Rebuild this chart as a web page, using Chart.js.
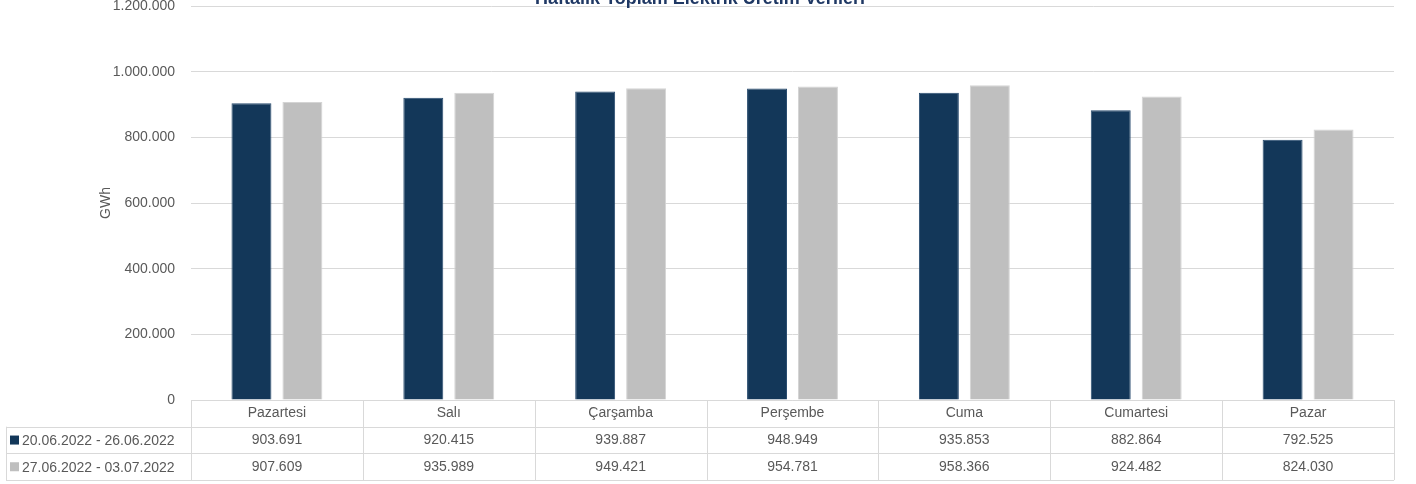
<!DOCTYPE html>
<html>
<head>
<meta charset="utf-8">
<script src="https://cdn.jsdelivr.net/npm/chart.js@4"></script>
<style>
  html, body { margin: 0; padding: 0; background: #fff; }
  #wrap { width: 1416px; height: 484px; }
</style>
</head>
<body>
<div id="wrap"><canvas id="elektrik"></canvas></div>
<script>
const days = ["Pazartesi", "Salı", "Çarşamba", "Perşembe", "Cuma", "Cumartesi", "Pazar"];
const week1Label = "20.06.2022 - 26.06.2022";
const week2Label = "27.06.2022 - 03.07.2022";
const week1 = [903691, 920415, 939887, 948949, 935853, 882864, 792525];
const week2 = [907609, 935989, 949421, 954781, 958366, 924482, 824030];
const chartTitle = "Haftalık Toplam Elektrik Üretim Verileri";
const unitLabel = "GWh";

const textColor = "#595959";
const lineColor = "#d9d9d9";
const font = "Liberation Sans";

function fmt(v) {
    return v.toLocaleString("de-DE");
}

// draws the cut-off title, the axis unit and the data table under the plot
const tablePlugin = {
    id: "dataTable",
    afterDraw(chart) {
        const ctx = chart.ctx;
        const area = chart.chartArea;
        const x = chart.scales.x;
        const top = area.bottom;
        const rowH = 26.7;
        const left = 6;
        const step = (area.right - area.left) / days.length;

        ctx.save();
        ctx.strokeStyle = lineColor;
        ctx.lineWidth = 1;
        ctx.beginPath();
        ctx.moveTo(area.left, top + 0.5); ctx.lineTo(area.right, top + 0.5);
        for (let r = 1; r <= 3; r++) {
            const y = Math.round(top + rowH * r) + 0.5;
            ctx.moveTo(left, y); ctx.lineTo(area.right, y);
        }
        ctx.moveTo(left + 0.5, top + rowH); ctx.lineTo(left + 0.5, top + rowH * 3);
        for (let i = 0; i <= days.length; i++) {
            const xx = Math.round(area.left + step * i) + 0.5;
            ctx.moveTo(xx, top); ctx.lineTo(xx, top + rowH * 3);
        }
        ctx.stroke();

        ctx.font = "14px " + font;
        ctx.fillStyle = textColor;
        ctx.textAlign = "center";
        ctx.textBaseline = "middle";
        days.forEach((d, i) => {
            const cx = x.getPixelForValue(i);
            ctx.fillText(d, cx, top + rowH * 0.5);
            ctx.fillText(fmt(week1[i]), cx, top + rowH * 1.5);
            ctx.fillText(fmt(week2[i]), cx, top + rowH * 2.5);
        });

        const sets = chart.data.datasets;
        ctx.textAlign = "left";
        [week1Label, week2Label].forEach((lbl, r) => {
            const cy = top + rowH * (r + 1.5);
            ctx.fillStyle = sets[r].backgroundColor;
            ctx.fillRect(10, cy - 4.5, 9, 9);
            ctx.fillStyle = textColor;
            ctx.fillText(lbl, 22, cy + 1);
        });

        // unit label of the value axis
        ctx.save();
        ctx.translate(106, (area.top + area.bottom) / 2);
        ctx.rotate(-Math.PI / 2);
        ctx.textAlign = "center";
        ctx.fillText(unitLabel, 0, 0);
        ctx.restore();

        // title, partly off the top edge
        ctx.font = "bold 18px " + font;
        ctx.fillStyle = "#1f3864";
        ctx.textAlign = "center";
        ctx.textBaseline = "alphabetic";
        ctx.fillText(chartTitle, 700, 4);
        ctx.restore();
    }
};

new Chart("elektrik", {
    type: "bar",
    data: {
        labels: days,
        datasets: [{
            label: week1Label,
            data: week1,
            backgroundColor: "#133759",
            borderColor: "#2a4d70",
            borderWidth: 1,
            categoryPercentage: 0.593,
            barPercentage: 0.784
        }, {
            label: week2Label,
            data: week2,
            backgroundColor: "#bfbfbf",
            borderColor: "#d4d4d4",
            borderWidth: 1,
            categoryPercentage: 0.593,
            barPercentage: 0.784
        }]
    },
    options: {
        responsive: true,
        maintainAspectRatio: false,
        animation: false,
        layout: { padding: { top: 6, right: 22, bottom: 84, left: 0 } },
        plugins: {
            legend: { display: false },
            title: { display: false },
            tooltip: { enabled: false }
        },
        scales: {
            x: { display: false },
            y: {
                min: 0,
                max: 1200000,
                ticks: {
                    stepSize: 200000,
                    color: textColor,
                    font: { family: font, size: 14 },
                    padding: 16,
                    callback: v => fmt(v)
                },
                grid: { color: lineColor, drawTicks: false },
                border: { display: false },
                afterFit(axis) {
                    axis.width = 191;
                    axis.paddingTop = 0;
                    axis.paddingBottom = 0;
                }
            }
        }
    },
    plugins: [tablePlugin]
});
</script>
</body>
</html>
